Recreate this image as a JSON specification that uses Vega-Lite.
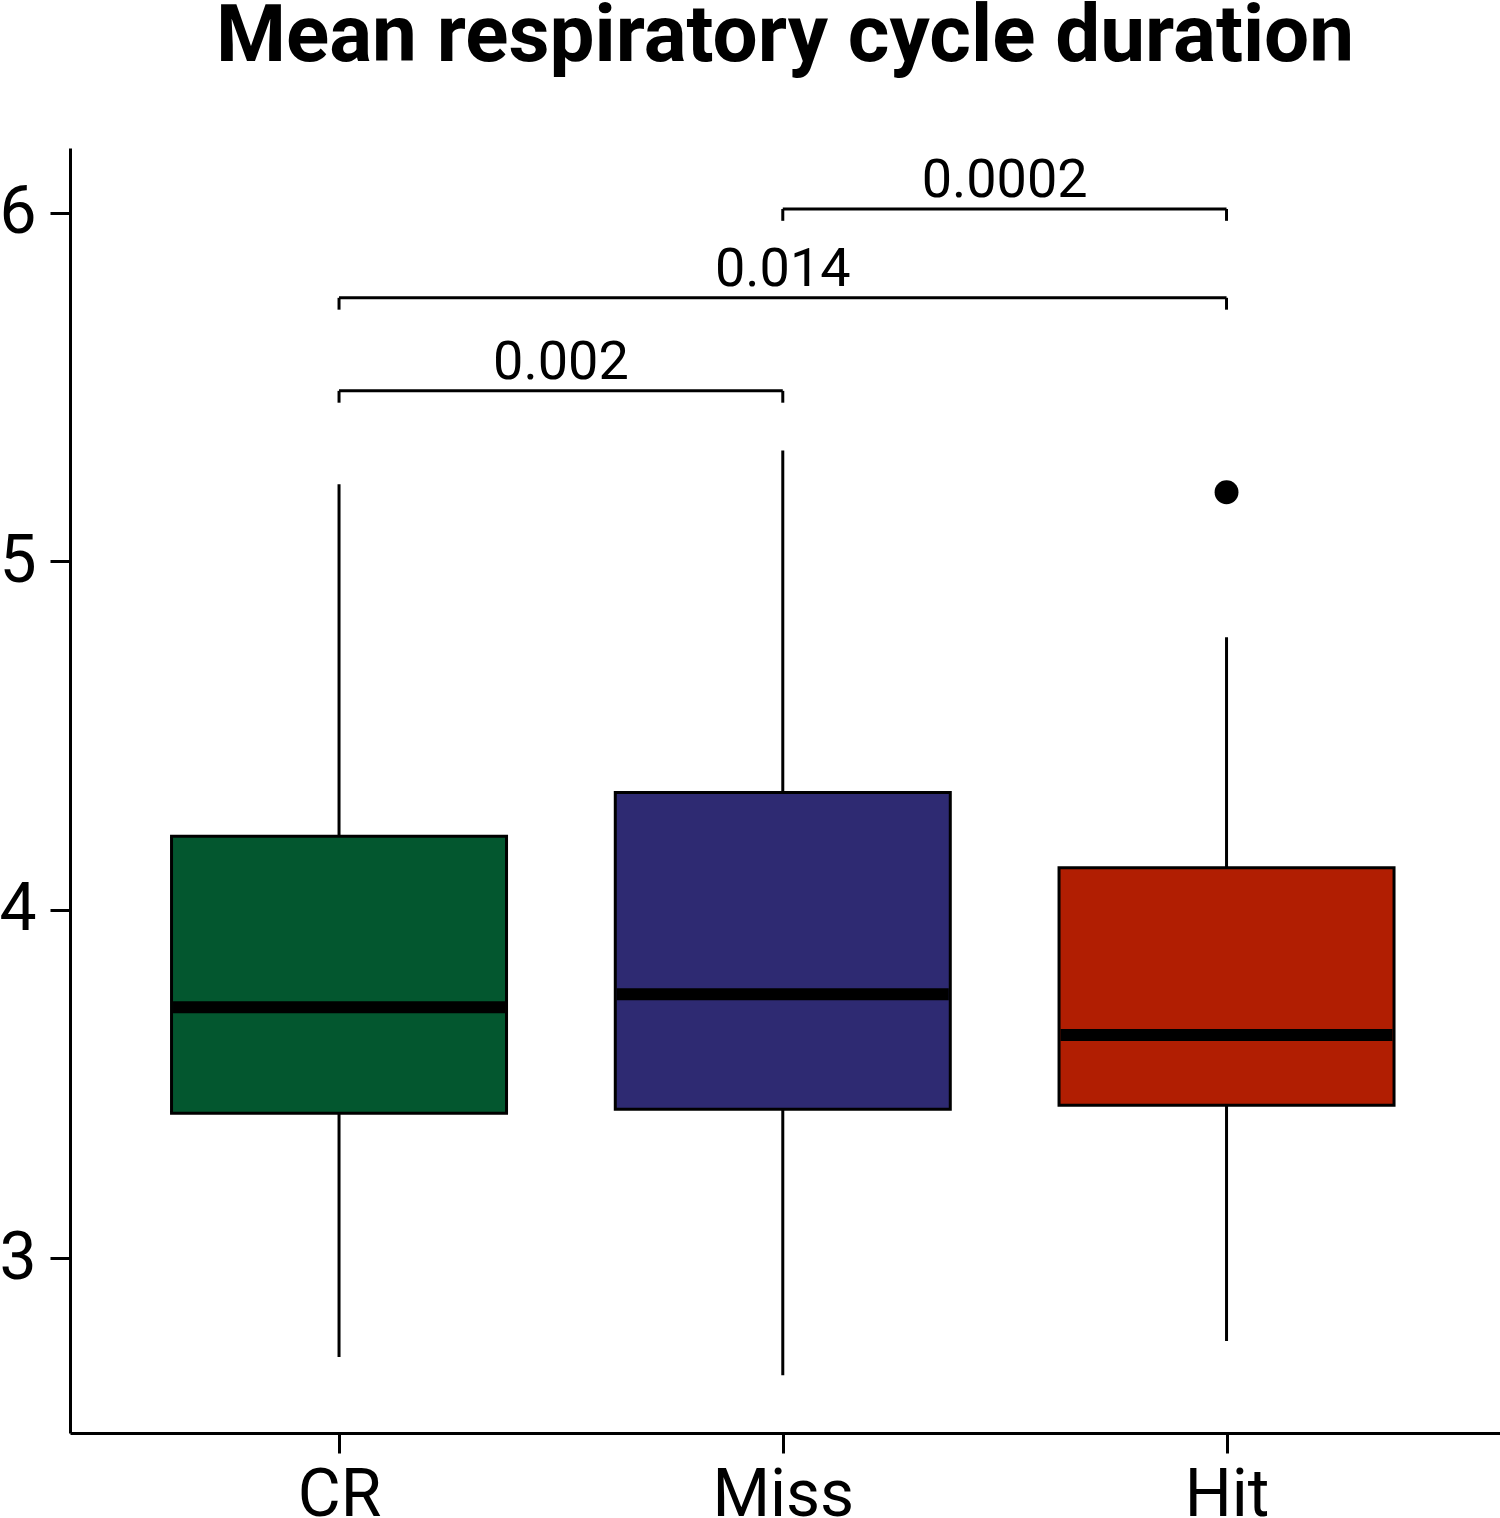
{
  "$schema": "https://vega.github.io/schema/vega-lite/v6.json",
  "autosize": {"type": "none"},
  "padding": {"left": 70, "top": 148, "right": 0, "bottom": 85},
  "width": 1430,
  "height": 1285,
  "background": "white",
  "title": {
    "text": "Mean respiratory cycle duration",
    "font": "Roboto",
    "fontSize": 80,
    "fontWeight": "bold",
    "color": "black",
    "anchor": "middle",
    "offset": 70
  },
  "config": {
    "view": {"stroke": null},
    "axis": {
      "grid": false,
      "domainColor": "black",
      "domainWidth": 3,
      "tickColor": "black",
      "tickWidth": 3,
      "tickSize": 20,
      "labelFont": "Roboto",
      "labelFontSize": 66,
      "labelColor": "black",
      "title": null
    }
  },
  "datasets": {
    "boxes": [
      {"group": "CR", "pos": 1, "lower": 2.716, "q1": 3.416, "median": 3.72, "q3": 4.211, "upper": 5.221},
      {"group": "Miss", "pos": 2, "lower": 2.664, "q1": 3.427, "median": 3.757, "q3": 4.336, "upper": 5.318},
      {"group": "Hit", "pos": 3, "lower": 2.762, "q1": 3.439, "median": 3.64, "q3": 4.12, "upper": 4.782}
    ],
    "outliers": [
      {"group": "Hit", "pos": 3, "value": 5.198}
    ],
    "brackets": [
      {"comp": "CR-Miss", "pos": 1, "y": 5.489, "yt": 5.455, "label": "0.002"},
      {"comp": "CR-Miss", "pos": 2, "y": 5.489, "yt": 5.455, "label": "0.002"},
      {"comp": "CR-Hit", "pos": 1, "y": 5.756, "yt": 5.722, "label": "0.014"},
      {"comp": "CR-Hit", "pos": 3, "y": 5.756, "yt": 5.722, "label": "0.014"},
      {"comp": "Miss-Hit", "pos": 2, "y": 6.011, "yt": 5.977, "label": "0.0002"},
      {"comp": "Miss-Hit", "pos": 3, "y": 6.011, "yt": 5.977, "label": "0.0002"}
    ]
  },
  "encoding": {
    "x": {
      "field": "pos",
      "type": "quantitative",
      "scale": {"domain": [0.405, 3.605], "nice": false, "zero": false},
      "axis": {
        "values": [1, 2, 3],
        "labelExpr": "datum.value == 1 ? 'CR' : datum.value == 2 ? 'Miss' : 'Hit'",
        "labelPadding": 10
      }
    }
  },
  "layer": [
    {
      "data": {"name": "boxes"},
      "mark": {"type": "rule", "color": "black", "strokeWidth": 3},
      "encoding": {
        "y": {
          "field": "lower",
          "type": "quantitative",
          "scale": {"domain": [2.498, 6.186], "nice": false, "zero": false},
          "axis": {"values": [3, 4, 5, 6], "format": "d", "labelPadding": 14}
        },
        "y2": {"field": "upper"}
      }
    },
    {
      "data": {"name": "boxes"},
      "mark": {"type": "bar", "width": 335, "stroke": "black", "strokeWidth": 3, "opacity": 1},
      "encoding": {
        "y": {"field": "q1", "type": "quantitative"},
        "y2": {"field": "q3"},
        "color": {
          "field": "group",
          "type": "nominal",
          "scale": {"domain": ["CR", "Miss", "Hit"], "range": ["#03572F", "#2E2A72", "#B11E02"]},
          "legend": null
        }
      }
    },
    {
      "data": {"name": "boxes"},
      "mark": {"type": "tick", "orient": "horizontal", "size": 332, "thickness": 12, "color": "black", "opacity": 1},
      "encoding": {
        "y": {"field": "median", "type": "quantitative"}
      }
    },
    {
      "data": {"name": "outliers"},
      "mark": {"type": "point", "filled": true, "shape": "circle", "size": 570, "color": "black", "opacity": 1},
      "encoding": {
        "y": {"field": "value", "type": "quantitative"}
      }
    },
    {
      "data": {"name": "brackets"},
      "mark": {"type": "line", "color": "black", "strokeWidth": 3},
      "encoding": {
        "y": {"field": "y", "type": "quantitative"},
        "detail": {"field": "comp"}
      }
    },
    {
      "data": {"name": "brackets"},
      "mark": {"type": "rule", "color": "black", "strokeWidth": 3},
      "encoding": {
        "y": {"field": "y", "type": "quantitative"},
        "y2": {"field": "yt"}
      }
    },
    {
      "data": {"name": "brackets"},
      "mark": {"type": "text", "font": "Roboto", "fontSize": 54, "color": "black", "baseline": "alphabetic", "align": "center", "dy": -12},
      "encoding": {
        "x": {"aggregate": "mean", "field": "pos", "type": "quantitative"},
        "y": {"field": "y", "type": "quantitative"},
        "text": {"field": "label"}
      }
    }
  ]
}
